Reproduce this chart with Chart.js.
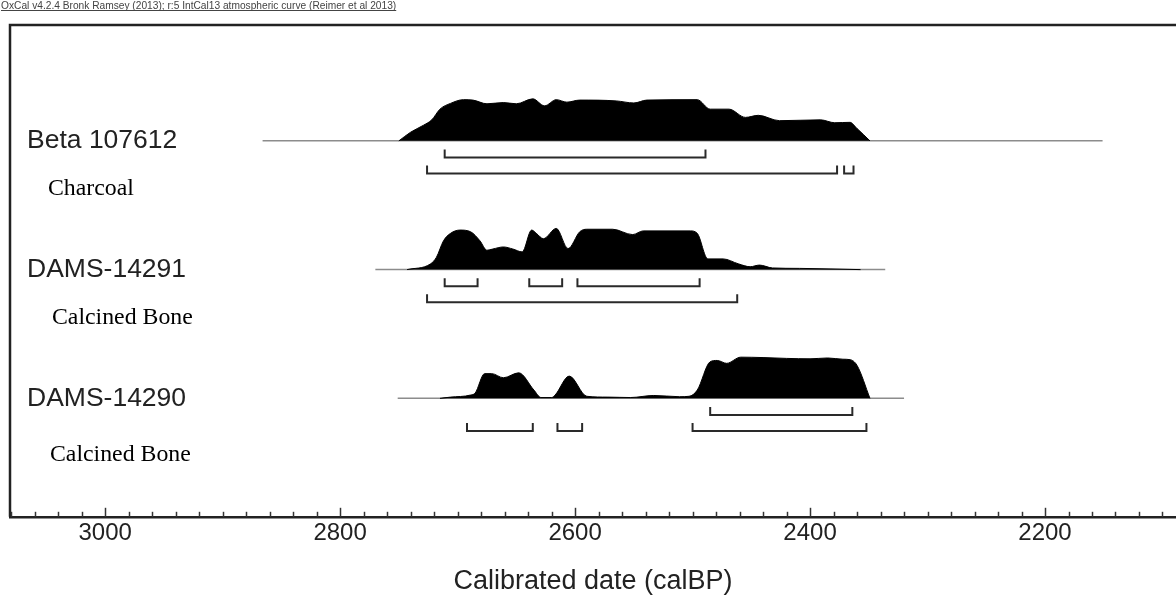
<!DOCTYPE html>
<html>
<head>
<meta charset="utf-8">
<script src="https://cdn.jsdelivr.net/npm/chart.js@4.4.0/dist/chart.umd.min.js"></script>
<style>
  html, body { margin: 0; padding: 0; background: #fff; }
  #wrap { width: 1176px; height: 598px; }
</style>
</head>
<body>
<div id="wrap"><canvas id="oxcalChart" width="1176" height="598"></canvas></div>
<script>
const sampleNames = ['Beta 107612', 'DAMS-14291', 'DAMS-14290'];
const materials = ['Charcoal', 'Calcined Bone', 'Calcined Bone'];
const tickYears = [3000, 2800, 2600, 2400, 2200];
const headerText = 'OxCal v4.2.4 Bronk Ramsey (2013); r:5 IntCal13 atmospheric curve (Reimer et al 2013)';
const axisTitle = 'Calibrated date (calBP)';

// calibrated probability curves (calBP, relative density)
const betaYears = [2750, 2740, 2729, 2722, 2715, 2706, 2695, 2687, 2675, 2661, 2650, 2636, 2626, 2616, 2607, 2596, 2565, 2550, 2539, 2496, 2485, 2469, 2455, 2444, 2426, 2391, 2379, 2366, 2360, 2349];
const betaProb = [0, 0.21, 0.38, 0.51, 0.77, 0.91, 1.0, 0.99, 0.90, 0.93, 0.90, 1.02, 0.85, 1.0, 0.94, 0.99, 0.97, 0.92, 0.99, 1.0, 0.77, 0.77, 0.57, 0.62, 0.49, 0.51, 0.44, 0.45, 0.30, 0];

const d14291Years = [2743, 2723, 2718, 2712, 2706, 2698, 2689, 2681, 2675, 2670, 2661, 2653, 2645, 2637, 2633, 2627, 2616, 2606, 2596, 2590, 2568, 2551, 2542, 2502, 2496, 2487, 2474, 2461, 2451, 2443, 2432, 2409, 2357];
const d14291Prob = [0, 0.14, 0.3, 0.7, 0.88, 0.96, 0.92, 0.7, 0.47, 0.5, 0.55, 0.5, 0.43, 0.96, 0.88, 0.75, 1.0, 0.51, 0.92, 0.98, 0.98, 0.85, 0.94, 0.94, 0.88, 0.26, 0.26, 0.14, 0.07, 0.11, 0.04, 0.03, 0];

const d14290Years = [2715, 2706, 2689, 2685, 2677, 2671, 2661, 2648, 2635, 2629, 2620, 2617, 2605, 2590, 2572, 2553, 2533, 2511, 2503, 2496, 2485, 2479, 2471, 2459, 2440, 2420, 2400, 2385, 2372, 2366, 2360, 2349];
const d14290Prob = [0, 0.03, 0.08, 0.13, 0.6, 0.6, 0.5, 0.62, 0.2, 0.02, 0.02, 0.08, 0.54, 0.05, 0.03, 0.02, 0.07, 0.04, 0.05, 0.2, 0.89, 0.92, 0.85, 1.0, 0.99, 0.97, 0.96, 0.98, 0.95, 0.94, 0.8, 0];

// extent of the thin baseline for each sample
const lineSpans = [[2866, 2151], [2770, 2336], [2751, 2320]];

// highest posterior density ranges
const ranges68 = [
  [[2711, 2489]],
  [[2711, 2683], [2639, 2611], [2598, 2494]],
  [[2485, 2364]]
];
const ranges95 = [
  [[2726, 2377], [2371, 2363]],
  [[2726, 2462]],
  [[2692, 2636], [2615, 2594], [2500, 2352]]
];

const curveYears = [betaYears, d14291Years, d14290Years];
const curveProb = [betaProb, d14291Prob, d14290Prob];

const peakHeight = 0.32;
const datasets = [];

curveYears.forEach((yrs, lane) => {
  datasets.push({
    data: yrs.map((yr, i) => ({ x: yr, y: lane - curveProb[lane][i] * peakHeight })),
    borderColor: '#000',
    backgroundColor: '#000',
    borderWidth: 1,
    pointRadius: 0,
    cubicInterpolationMode: 'monotone',
    fill: { value: lane }
  });
  datasets.push({
    data: lineSpans[lane].map(yr => ({ x: yr, y: lane })),
    borderColor: '#8c8c8c',
    borderWidth: 1.5,
    pointRadius: 0,
    fill: false
  });
  [[ranges68[lane], 0.129], [ranges95[lane], 0.253]].forEach(([list, off]) => {
    const pts = [];
    list.forEach(([a, b]) => {
      pts.push({ x: a, y: lane + off - 0.062 }, { x: a, y: lane + off },
               { x: b, y: lane + off }, { x: b, y: lane + off - 0.062 }, { x: b, y: null });
    });
    datasets.push({
      data: pts,
      borderColor: '#2a2a2a',
      borderWidth: 2,
      pointRadius: 0,
      spanGaps: false,
      fill: false
    });
  });
});

const decor = {
  id: 'decor',
  afterDraw(chart) {
    const { ctx, chartArea: a, scales: { x, y } } = chart;
    ctx.save();
    // frame
    ctx.strokeStyle = '#222';
    ctx.lineWidth = 2.5;
    ctx.beginPath();
    ctx.moveTo(a.left, a.bottom);
    ctx.lineTo(a.left, a.top);
    ctx.lineTo(a.right + 5, a.top);
    ctx.stroke();
    // minor and major tick marks
    ctx.lineWidth = 1.5;
    ctx.strokeStyle = '#333';
    for (let yr = 3080; yr >= 2100; yr -= 20) {
      const px = Math.round(x.getPixelForValue(yr)) + 0.5;
      const len = yr % 200 === 0 ? 9 : 5;
      ctx.beginPath();
      ctx.moveTo(px, a.bottom);
      ctx.lineTo(px, a.bottom - len);
      ctx.stroke();
    }
    // header
    ctx.fillStyle = '#444';
    ctx.font = '10.2px "Liberation Sans", Arial, sans-serif';
    ctx.textBaseline = 'alphabetic';
    ctx.fillText(headerText, 1, 9);
    const w = ctx.measureText(headerText).width;
    ctx.fillRect(1, 10, w, 1);
    // sample names and materials
    const matOff = [0.37, 0.37, 0.44];
    const matX = [48, 52, 50];
    ctx.textBaseline = 'middle';
    sampleNames.forEach((name, lane) => {
      ctx.fillStyle = '#222';
      ctx.font = '26.5px "Liberation Sans", Arial, sans-serif';
      ctx.fillText(name, 27, y.getPixelForValue(lane));
      ctx.fillStyle = '#000';
      ctx.font = '23.8px "Liberation Serif", "Times New Roman", serif';
      ctx.fillText(materials[lane], matX[lane], y.getPixelForValue(lane + matOff[lane]));
    });
    ctx.restore();
  }
};

new Chart(document.getElementById('oxcalChart'), {
  type: 'line',
  data: { datasets },
  options: {
    responsive: false,
    animation: false,
    layout: { padding: { left: 10, top: 25, right: 0, bottom: 0 } },
    plugins: { legend: { display: false }, tooltip: { enabled: false } },
    scales: {
      x: {
        type: 'linear',
        reverse: true,
        min: 2088.5,
        max: 3081,
        afterBuildTicks: scale => { scale.ticks = tickYears.map(v => ({ value: v })); },
        grid: { display: false, drawTicks: false },
        border: { display: true, color: '#222', width: 2.5 },
        ticks: {
          padding: 2,
          color: '#222',
          maxRotation: 0,
          callback: v => String(v),
          font: { family: '"Liberation Sans", Arial, sans-serif', size: 24 }
        },
        title: {
          display: true,
          text: axisTitle,
          color: '#222',
          padding: { top: 16, bottom: 0 },
          font: { family: '"Liberation Sans", Arial, sans-serif', size: 27 }
        }
      },
      y: {
        type: 'linear',
        display: false,
        reverse: true,
        min: -0.9,
        max: 2.92
      }
    }
  },
  plugins: [decor]
});
</script>
</body>
</html>
